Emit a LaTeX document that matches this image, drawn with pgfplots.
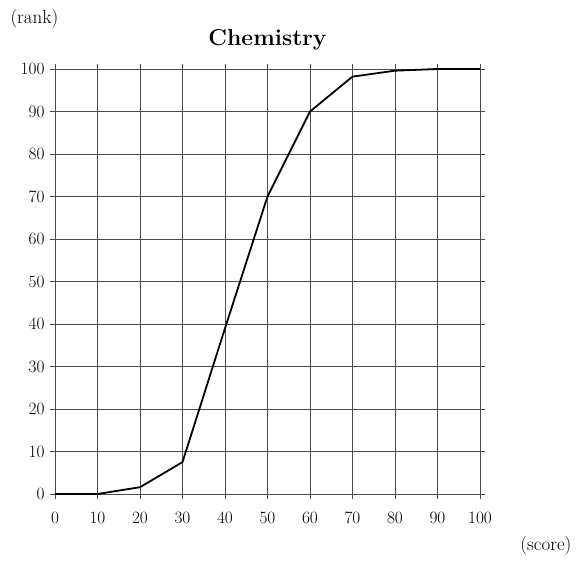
\documentclass[border=0pt]{standalone}
\usepackage{pgfplots}
\pgfplotsset{compat=1.18}
\begin{document}
\begin{tikzpicture}
\useasboundingbox (-55pt,-67pt) rectangle (522pt,494pt);
\begin{axis}[
  at={(0pt,0pt)}, anchor=south west,
  scale only axis, width=425pt, height=425pt,
  xmin=0, xmax=100, ymin=0, ymax=100,
  xtick={0,10,...,100}, ytick={0,10,...,100},
  grid=major,
  grid style={black!70, line width=0.9pt},
  axis line style={black!70, line width=0.9pt},
  tick style={black!70, line width=0.9pt},
  tick align=outside, major tick length=5pt,
  ticklabel style={font=\fontsize{18}{21}\selectfont},
  xticklabel style={yshift=-10pt},
  yticklabel style={xshift=-2pt},
  title={\bfseries Chemistry},
  title style={font=\fontsize{23}{27}\selectfont, anchor=base, at={(0.5,1)}, yshift=17pt},
  clip=false,
]
\addplot[black, line width=1.8pt] coordinates {
 (0,0) (10,0) (20,1.6) (30,7.5) (40,39) (50,70) (60,90) (70,98.2) (80,99.6) (90,100) (100,100)
};
\node[anchor=base west, font=\fontsize{19}{22}\selectfont] at (rel axis cs:-0.113,1.108) {(rank)};
\node[anchor=base east, font=\fontsize{19}{22}\selectfont] at (rel axis cs:1.2235,-0.132) {(score)};
\end{axis}
\end{tikzpicture}
\end{document}
